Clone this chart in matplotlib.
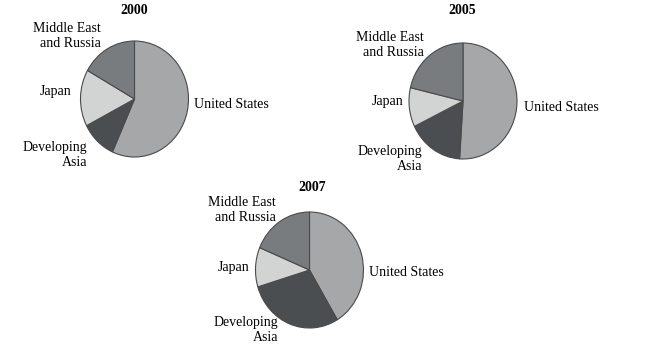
import matplotlib.pyplot as plt

regions = ['United States', 'Developing\nAsia', 'Japan', 'Middle East\nand Russia']
years = ['2000', '2005', '2007']
share_2000 = [56.7, 10.7, 15.8, 16.8]
share_2005 = [51.0, 16.8, 10.9, 21.3]
share_2007 = [41.4, 28.9, 11.0, 18.7]
colors = ['#a5a7a9', '#4a4e51', '#d2d3d3', '#797c7f']

W, H = 645, 356
RX, RY = 54, 58
S = RX / RY  # pies in the source are slightly taller than wide

plt.rcParams['font.family'] = ['Liberation Serif', 'DejaVu Serif']

fig = plt.figure(figsize=(W / 100, H / 100), dpi=100)
ax = fig.add_axes([0, 0, 1, 1])


def to_data(px, py):
    return px, (H - py) * S


# pie centre, title and label anchors (x, y, ha) in pixel coords
layout = [
    dict(c=(134.5, 99), title=(134, 11),
         labels=[(194, 105, 'left'), (87, 155, 'right'),
                 (71, 91, 'right'), (101, 36, 'right')]),
    dict(c=(463, 101), title=(462, 11),
         labels=[(524, 108, 'left'), (422, 159, 'right'),
                 (403, 102, 'right'), (424, 45, 'right')]),
    dict(c=(309.5, 270), title=(312, 188),
         labels=[(369, 272, 'left'), (278, 330, 'right'),
                 (249, 268, 'right'), (276, 210, 'right')]),
]

for year, shares, lay in zip(years, [share_2000, share_2005, share_2007], layout):
    ax.pie(shares, colors=colors, startangle=90, counterclock=False,
           center=to_data(*lay['c']), radius=RX,
           wedgeprops=dict(edgecolor='#4a4a4a', linewidth=0.8))
    ax.text(*to_data(*lay['title']), year, ha='center', va='center',
            fontsize=10, fontweight='bold')
    for name, (lx, ly, ha) in zip(regions, lay['labels']):
        ax.text(*to_data(lx, ly), name, ha=ha, va='center', fontsize=10,
                multialignment='right' if ha == 'right' else 'left',
                linespacing=1.2)

ax.set_xlim(0, W)
ax.set_ylim(0, H * S)
ax.set_aspect('auto')
ax.axis('off')

fig.savefig('out.png', dpi=100)
